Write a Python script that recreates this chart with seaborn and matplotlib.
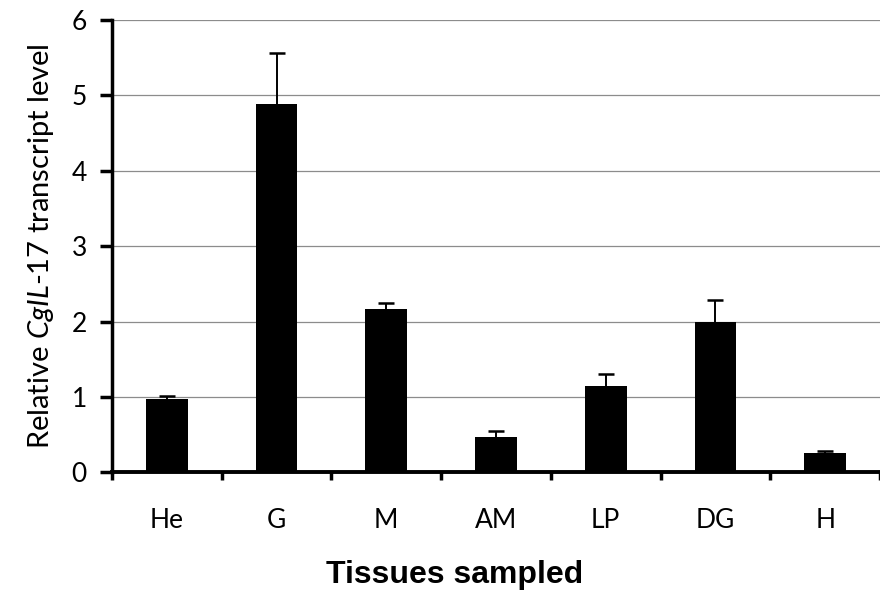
import numpy as np
import pandas as pd
import matplotlib
matplotlib.use("Agg")
import matplotlib.pyplot as plt
import seaborn as sns

# Data
tissues = ["He", "G", "M", "AM", "LP", "DG", "H"]
means = [0.97, 4.89, 2.17, 0.47, 1.15, 2.00, 0.25]
err_up = [0.04, 0.67, 0.08, 0.08, 0.15, 0.28, 0.03]

df = pd.DataFrame({"Tissue": tissues, "Level": means})

sns.set_theme(style="white")
plt.rcParams["font.family"] = ["Lato", "DejaVu Sans"]
plt.rcParams["mathtext.fontset"] = "custom"
plt.rcParams["mathtext.rm"] = "Lato"
plt.rcParams["mathtext.it"] = "Lato:italic"
plt.rcParams["text.color"] = "black"
plt.rcParams["axes.labelcolor"] = "black"
plt.rcParams["xtick.color"] = "black"
plt.rcParams["ytick.color"] = "black"

fig = plt.figure(figsize=(8.8, 6), dpi=100)
ax = fig.add_axes([112 / 880, 1 - 472.3 / 600, 1 - 112 / 880, (472.3 - 20) / 600])

sns.barplot(data=df, x="Tissue", y="Level", color="black", width=0.38,
            saturation=1, errorbar=None, ax=ax, zorder=3,
            edgecolor="black", linewidth=0)

# upper-only error bars
eb = ax.errorbar(np.arange(len(tissues)), means,
                 yerr=[np.zeros(len(tissues)), err_up],
                 fmt="none", ecolor="black", elinewidth=1.4, capsize=6,
                 capthick=1.8, zorder=4)
eb[1][0].set_visible(False)  # hide lower caps

ax.set_ylim(0, 6)
ax.set_xlim(-0.5, 6.42)
ax.set_yticks(range(0, 7))
ax.set_xticks(np.arange(len(tissues)))
ax.set_xticklabels(tissues)
ax.set_xticks(np.arange(-0.5, 7, 1), minor=True)
ax.yaxis.grid(True, color="#8c8c8c", linewidth=0.9, zorder=0)
ax.set_axisbelow(True)

for side in ["top", "right"]:
    ax.spines[side].set_visible(False)
ax.spines["left"].set_linewidth(2.5)
ax.spines["bottom"].set_linewidth(2.8)
ax.spines["left"].set_color("black")
ax.spines["bottom"].set_color("black")

ax.tick_params(axis="y", direction="out", length=9, width=2.5, labelsize=19,
               pad=9, left=True, colors="black")
ax.tick_params(axis="x", which="major", length=0, labelsize=19, pad=26,
               colors="black")
ax.tick_params(axis="x", which="minor", direction="out", length=6, width=2.5,
               bottom=True, color="black")

ax.set_xlabel("")
ax.set_ylabel(r"Relative $\mathit{CgIL}$-$\mathit{17}$ transcript level",
              fontsize=21, labelpad=11, color="black")
fig.text(455 / 880, 1 - 575 / 600, "Tissues sampled", ha="center",
         va="center", fontsize=23, fontweight="bold", color="black",
         family=["Liberation Sans", "DejaVu Sans"])

plt.savefig("out.png", dpi=100)
